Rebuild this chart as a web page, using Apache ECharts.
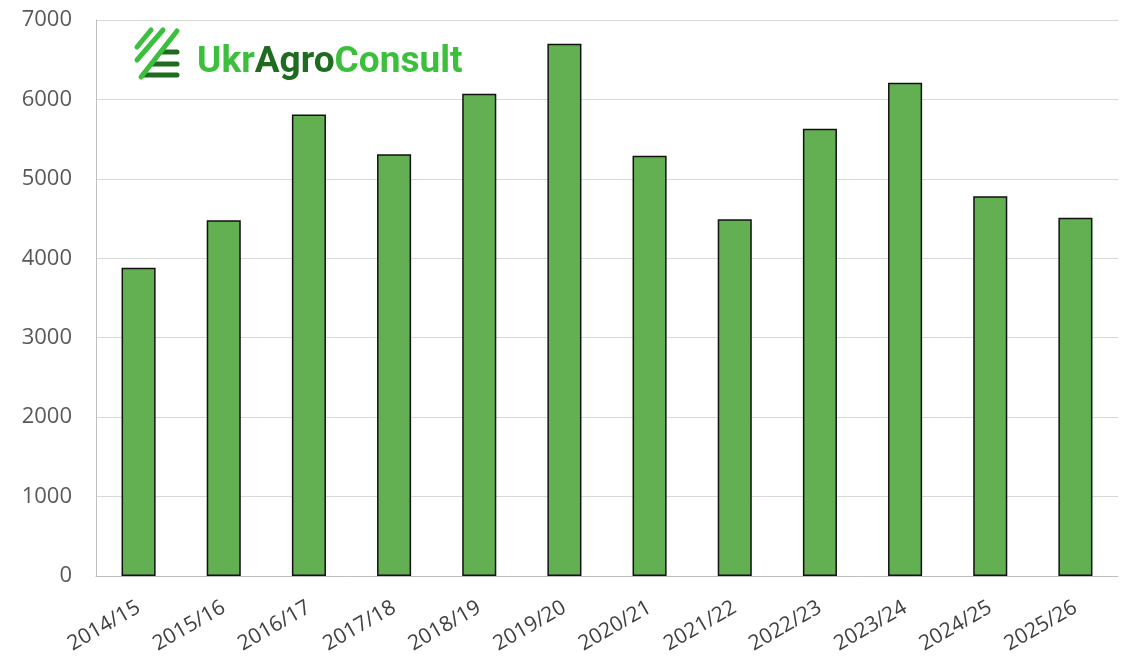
<!DOCTYPE html>
<html><head><meta charset="utf-8">
<script src="https://cdn.jsdelivr.net/npm/echarts@6/dist/echarts.min.js"></script>
<style>html,body{margin:0;padding:0;background:#fff}#c{width:1130px;height:662px}</style>
</head><body><div id="c"></div>
<script>
const categories = ['2014/15','2015/16','2016/17','2017/18','2018/19','2019/20','2020/21','2021/22','2022/23','2023/24','2024/25','2025/26'];
const values = [3880, 4480, 5810, 5310, 6070, 6700, 5290, 4490, 5630, 6210, 4780, 4510];
const yTicks = {min: 0, max: 7000, interval: 1000};

const chart = echarts.init(document.getElementById('c'));
const light = '#3cbf3c', dark = '#1f6b1f';
chart.setOption({
  animation: false,
  grid: {left: 96, right: 12, top: 20, bottom: 86},
  xAxis: {
    type: 'category', data: categories,
    axisLine: {lineStyle: {color: '#bfbfbf', width: 1}},
    axisTick: {show: false},
    axisLabel: {rotate: 30, fontSize: 21, color: '#404040', fontFamily: 'Open Sans', margin: 30, interval: 0}
  },
  yAxis: {
    type: 'value', min: yTicks.min, max: yTicks.max, interval: yTicks.interval,
    axisLine: {show: true, lineStyle: {color: '#bfbfbf', width: 1}},
    axisTick: {show: false},
    splitLine: {lineStyle: {color: '#d9d9d9', width: 1}},
    axisLabel: {fontSize: 22, color: '#595959', fontFamily: 'Open Sans', margin: 24, formatter: v => String(v)}
  },
  series: [{
    type: 'bar', data: values, barWidth: '40%',
    itemStyle: {color: '#63b053', borderColor: '#111', borderWidth: 1.5}
  }],
  graphic: [
    {type: 'line', shape: {x1: 161, y1: 52, x2: 177, y2: 52}, style: {stroke: dark, lineWidth: 5, lineCap: 'round'}},
    {type: 'line', shape: {x1: 152, y1: 64, x2: 177, y2: 64}, style: {stroke: dark, lineWidth: 5, lineCap: 'round'}},
    {type: 'line', shape: {x1: 143, y1: 75, x2: 177, y2: 75}, style: {stroke: dark, lineWidth: 5, lineCap: 'round'}},
    {type: 'line', shape: {x1: 137, y1: 47, x2: 151, y2: 30}, style: {stroke: light, lineWidth: 5, lineCap: 'round'}},
    {type: 'line', shape: {x1: 137, y1: 60, x2: 163, y2: 30}, style: {stroke: light, lineWidth: 5, lineCap: 'round'}},
    {type: 'line', shape: {x1: 141, y1: 77, x2: 177, y2: 31}, style: {stroke: light, lineWidth: 5, lineCap: 'round'}},
    {type: 'text', left: 197, top: 44, style: {
      text: '{a|Ukr}{b|Agro}{a|Consult}',
      rich: {
        a: {fill: light, fontSize: 37, fontWeight: 'bold', fontFamily: 'Roboto'},
        b: {fill: dark, fontSize: 37, fontWeight: 'bold', fontFamily: 'Roboto'}
      }
    }}
  ]
});
</script></body></html>
